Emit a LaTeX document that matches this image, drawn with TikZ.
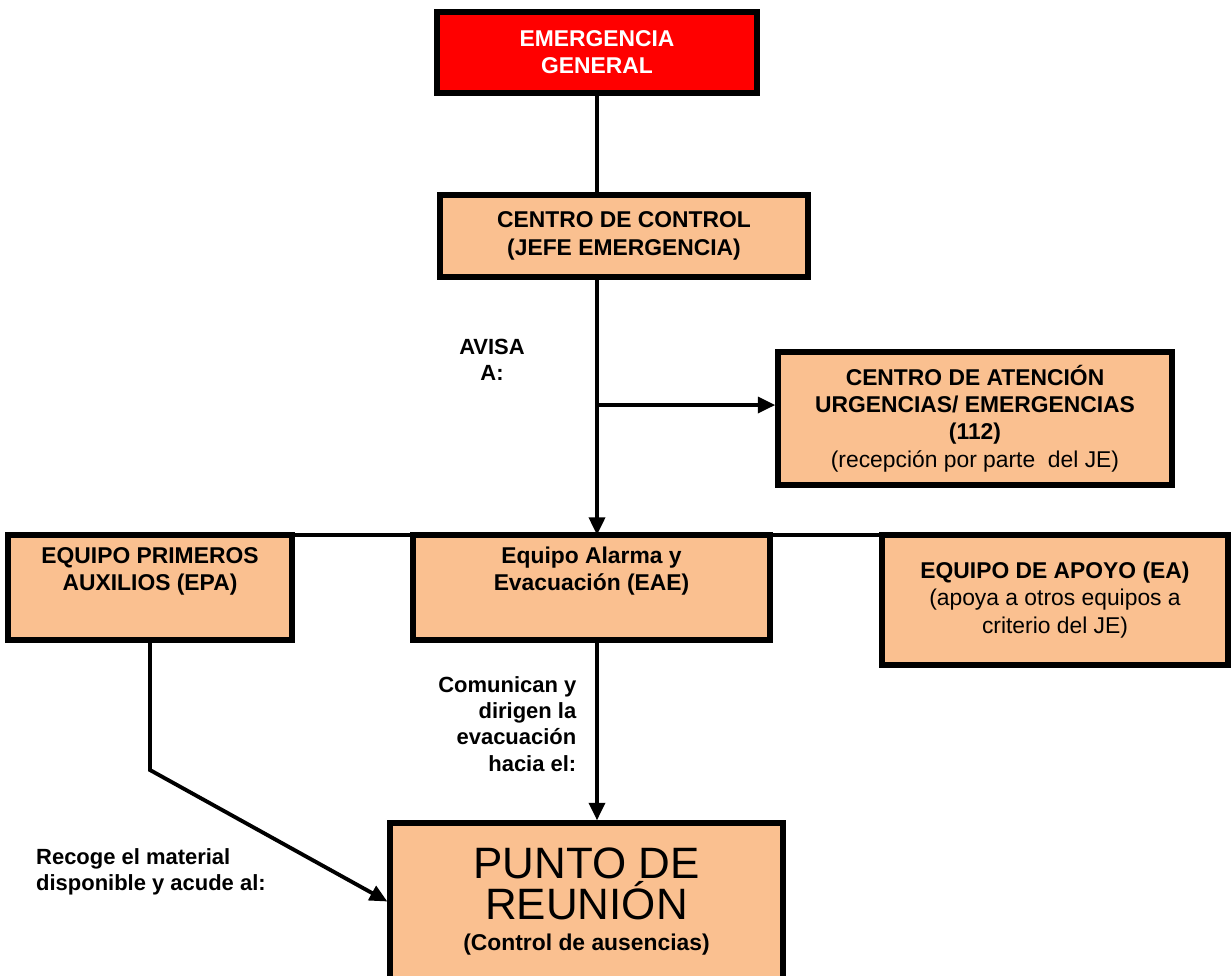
\documentclass[tikz,border=0pt]{standalone}
\usepackage{fontspec}
\setmainfont{Liberation Sans}
\usetikzlibrary{positioning, arrows.meta}
\definecolor{peach}{RGB}{250,192,144}
\definecolor{alarmred}{RGB}{255,0,0}

\begin{document}
\begin{tikzpicture}[>={Triangle[length=10pt, width=9pt]},
    box/.style={draw, line width=3pt, fill=peach, align=center, inner sep=2pt,
        font=\bfseries\fontsize{13}{15.5}\selectfont},
    conn/.style={line width=2.2pt},
    lbl/.style={font=\bfseries\fontsize{12.5}{15}\selectfont}]
    \useasboundingbox (0,0) rectangle (24.62,-19.5);

    % fixed points of the connectors
    \coordinate (barL) at (0.1,-10.7);
    \coordinate (barR) at (24.62,-10.7);
    \coordinate (split) at (11.94,-8.1);
    \coordinate (kink) at (3.0,-15.4);

    \draw[conn] (barL) -- (barR);

    \node[box, fill=alarmred, text=white, minimum width=6.4cm, minimum height=1.62cm] (emerg) at (11.94,-1.05) {EMERGENCIA\\GENERAL};
    \node[box, minimum width=7.36cm, minimum height=1.64cm] (control) at (12.48,-4.72) {CENTRO DE CONTROL\\(JEFE EMERGENCIA)};
    \node[box, minimum width=7.88cm, minimum height=2.66cm] (atencion) at (19.5,-8.37) {CENTRO DE ATENCIÓN\\URGENCIAS/ EMERGENCIAS\\(112)\\{\mdseries (recepción por parte\ \ del JE)}};
    \node[box, minimum width=5.68cm, minimum height=2.1cm, text depth=0.75cm] (epa) at (3.0,-11.75) {EQUIPO PRIMEROS\\AUXILIOS (EPA)};
    \node[box, minimum width=7.14cm, minimum height=2.1cm, text depth=0.75cm] (eae) at (11.83,-11.75) {Equipo Alarma y\\Evacuación (EAE)};
    \node[box, minimum width=6.92cm, minimum height=2.6cm] (ea) at (21.1,-12.0) {EQUIPO DE APOYO (EA)\\{\mdseries (apoya a otros equipos a}\\{\mdseries criterio del JE)}};
    \node[box, minimum width=7.86cm, minimum height=3.14cm] (punto) at (11.73,-18.03) {{\mdseries\fontsize{25}{27}\selectfont PUNTO DE}\\{\mdseries\fontsize{25}{29}\selectfont REUNIÓN}\\[2pt](Control de ausencias)};

    \node[lbl, align=center] (avisa) at (9.84,-7.2) {AVISA\\A:};
    \node[lbl, align=right, anchor=north east] (comunican) at (11.65,-13.4) {Comunican y\\dirigen la\\evacuación\\hacia el:};
    \node[lbl, align=left, anchor=west] (recoge) at (0.6,-17.44) {Recoge el material\\disponible y acude al:};

    \draw[conn] (emerg.south) -- (emerg.south |- control.north);
    \draw[conn, ->] (emerg.south |- control.south) -- (emerg.south |- barL);
    \draw[conn, ->] (split) -- (split -| atencion.west);
    \draw[conn, ->] (epa.south) -- (kink) -- (punto.west);
    \draw[conn, ->] (emerg.south |- eae.south) -- (emerg.south |- punto.north);
\end{tikzpicture}
\end{document}
